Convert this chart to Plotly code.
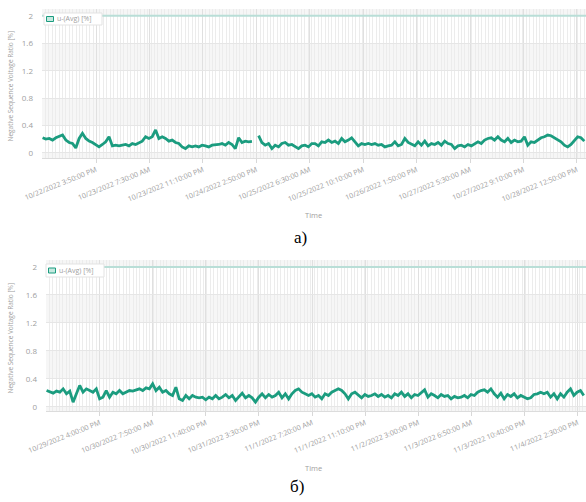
import pandas as pd
import plotly.graph_objects as go

# ---------------- data ----------------
series_name = "u-(Avg) [%]"
limit_value = 2.0

# chart a): 10/22/2022 00:10 ... 10/28/2022 15:00
a_start, a_end = "2022-10-22 00:10", "2022-10-28 15:00"
a_values_part1 = [
    0.222, 0.203, 0.212, 0.188, 0.222, 0.237, 0.262, 0.188, 0.153, 0.138,
    0.074, 0.212, 0.287, 0.212, 0.173, 0.153, 0.124, 0.089, 0.124, 0.163,
    0.237, 0.104, 0.114, 0.104, 0.114, 0.124, 0.104, 0.138, 0.124, 0.153,
    0.173, 0.237, 0.212, 0.237, 0.336, 0.212, 0.237, 0.212, 0.173, 0.188,
    0.153, 0.138, 0.089, 0.064, 0.104, 0.089, 0.104, 0.089, 0.114, 0.104,
    0.089, 0.114, 0.114, 0.124, 0.138, 0.114, 0.153, 0.124, 0.064, 0.222,
    0.153, 0.173, 0.163, 0.170, None, 0.252, 0.153, 0.114, 0.138, 0.064,
    0.114, 0.089, 0.138, 0.153, 0.114, 0.124, 0.089, 0.064, 0.104, 0.114,
    0.089, 0.138,
]
a_values_part2 = [
    0.138, 0.104, 0.163, 0.153, 0.188, 0.153, 0.173, 0.138, 0.212, 0.163,
    0.188, 0.222, 0.163, 0.104, 0.138, 0.124, 0.138, 0.124, 0.138, 0.114,
    0.124, 0.089, 0.104, 0.114, 0.163, 0.104, 0.124, 0.212, 0.153, 0.124,
    0.104, 0.163, 0.114, 0.173, 0.104, 0.138, 0.124, 0.153, 0.114, 0.173,
    0.138, 0.124, 0.064, 0.104, 0.114, 0.089, 0.124, 0.104, 0.138, 0.163,
    0.138, 0.188, 0.212, 0.222, 0.188, 0.237, 0.188, 0.163, 0.212, 0.153,
    0.188, 0.163, 0.173, 0.237, 0.114, 0.163, 0.153, 0.188, 0.222, 0.237,
    0.262, 0.252, 0.222, 0.188, 0.163, 0.114, 0.089, 0.124, 0.188, 0.237,
    0.222, 0.173,
]
a_values = a_values_part1 + a_values_part2
a_first_tick, a_tick_step_min, a_tick_count = "2022-10-22 15:50", 940, 10
a_range = ["2022-10-22 00:00", "2022-10-28 15:30"]

# chart б): 10/29/2022 00:10 ... 11/4/2022 16:20
b_start, b_end = "2022-10-29 00:10", "2022-11-04 16:20"
b_values_part1 = [
    0.233, 0.209, 0.195, 0.224, 0.209, 0.257, 0.186, 0.224, 0.067, 0.186,
    0.305, 0.209, 0.257, 0.233, 0.209, 0.257, 0.114, 0.138, 0.233, 0.138,
    0.209, 0.186, 0.233, 0.186, 0.209, 0.233, 0.224, 0.243, 0.257, 0.233,
    0.271, 0.257, 0.328, 0.233, 0.281, 0.209, 0.233, 0.186, 0.162, 0.281,
    0.114, 0.090, 0.162, 0.114, 0.162, 0.138, 0.129, 0.138, 0.100, 0.138,
    0.114, 0.162, 0.114, 0.138, 0.176, 0.129, 0.162, 0.090, 0.138, 0.195,
    0.129, 0.162, 0.129, 0.067, 0.138, 0.186, 0.129, 0.176, 0.138, 0.162,
    0.209, 0.129, 0.186, 0.114, 0.186, 0.233, 0.257, 0.209, 0.186, 0.162,
    0.186,
]
b_values_part2 = [
    0.138, 0.162, 0.114, 0.186, 0.162, 0.209, 0.233, 0.257, 0.233, 0.186,
    0.114, 0.186, 0.209, 0.162, 0.129, 0.176, 0.148, 0.162, 0.186, 0.148,
    0.176, 0.138, 0.162, 0.129, 0.186, 0.162, 0.209, 0.148, 0.186, 0.129,
    0.176, 0.162, 0.209, 0.243, 0.138, 0.186, 0.162, 0.129, 0.176, 0.148,
    0.162, 0.114, 0.148, 0.129, 0.138, 0.162, 0.129, 0.176, 0.162, 0.209,
    0.233, 0.243, 0.209, 0.257, 0.186, 0.138, 0.195, 0.114, 0.176, 0.148,
    0.186, 0.129, 0.162, 0.138, 0.114, 0.129, 0.176, 0.186, 0.209, 0.186,
    0.209, 0.138, 0.186, 0.114, 0.186, 0.138, 0.209, 0.257, 0.162, 0.209,
    0.233, 0.162,
]
b_values = b_values_part1 + b_values_part2
b_first_tick, b_tick_step_min, b_tick_count = "2022-10-29 16:00", 950, 10
b_range = ["2022-10-29 00:00", "2022-11-04 17:00"]

y_ticks = [0, 0.4, 0.8, 1.2, 1.6, 2]
y_tick_labels = ["0", "0.4", "0.8", "1.2", "1.6", "2"]
y_title = "Negative Sequence Voltage Ratio [%]"
x_title = "Time"
captions = ["a)", "б)"]

# ---------------- helpers ----------------
W, H = 586, 502
LINE = "#1b9c7f"
LIMIT = "#b9ded7"
GRAY = "#a0a0a0"


def fmt(d):
    h = d.hour % 12
    h = 12 if h == 0 else h
    ap = "AM" if d.hour < 12 else "PM"
    return f"{d.month}/{d.day}/{d.year} {h}:{d.minute:02d}:00 {ap}"


def ticks(first, step, count):
    t0 = pd.Timestamp(first)
    vals = [t0 + pd.Timedelta(minutes=step * k) for k in range(count)]
    return vals, [fmt(v) for v in vals]


def px_x(p):
    return p / W


def px_y(p):
    return 1 - p / H


fig = go.Figure()

panels = [
    dict(vals=a_values, start=a_start, end=a_end, tk=ticks(a_first_tick, a_tick_step_min, a_tick_count),
         rng=a_range, xd=[42, W], yd=[9, 158], yr=[-0.073, 2.1], xa="x", ya="y",
         leg=(44, 13, 102, 25), time_y=215, cap_y=237, cap_x=300),
    dict(vals=b_values, start=b_start, end=b_end, tk=ticks(b_first_tick, b_tick_step_min, b_tick_count),
         rng=b_range, xd=[46, W], yd=[260, 411], yr=[-0.06, 2.1], xa="x2", ya="y2",
         leg=(46, 264, 104, 277), time_y=468, cap_y=486, cap_x=297),
]

shapes = []
annotations = []
for i, p in enumerate(panels):
    times = pd.date_range(p["start"], p["end"], periods=len(p["vals"]))
    fig.add_trace(go.Scatter(x=[p["rng"][0], p["rng"][1]], y=[limit_value, limit_value], mode="lines",
                             line=dict(color=LIMIT, width=2), xaxis=p["xa"], yaxis=p["ya"],
                             showlegend=False, hoverinfo="skip"))
    fig.add_trace(go.Scatter(x=times, y=p["vals"], mode="lines", name=series_name,
                             line=dict(color=LINE, width=2.8), connectgaps=False,
                             xaxis=p["xa"], yaxis=p["ya"], showlegend=False))
    suffix = "" if i == 0 else "2"
    fig.layout["xaxis" + suffix] = dict(
        domain=[px_x(p["xd"][0]), 1], anchor="y" + suffix, type="date", range=p["rng"],
        tickmode="array", tickvals=p["tk"][0], ticktext=p["tk"][1], tickangle=-22,
        tickfont=dict(size=7.2, color=GRAY, family="Open Sans"), automargin=False,
        showgrid=True, gridcolor="#e0e0e0", gridwidth=1,
        minor=dict(dtick=3600000, showgrid=True, gridcolor="#ececec", gridwidth=1),
        ticks="outside", ticklen=4, tickcolor="#d8d8d8",
        showline=True, linecolor="#dcdcdc", zeroline=False,
    )
    fig.layout["yaxis" + suffix] = dict(
        domain=[px_y(p["yd"][1]), px_y(p["yd"][0])], anchor="x" + suffix, range=p["yr"],
        tickmode="array", tickvals=y_ticks, ticktext=y_tick_labels, automargin=False,
        tickfont=dict(size=8, color=GRAY, family="Open Sans"),
        showgrid=True, gridcolor="#e6e6e6", zeroline=False, ticklabelstandoff=8,
    )
    # alternating bands
    for b0, b1 in [(-0.4, 0), (0.4, 0.8), (1.2, 1.6), (2.0, 2.4)]:
        shapes.append(dict(type="rect", xref=p["xa"] + " domain", yref=p["ya"], x0=0, x1=1,
                           y0=max(b0, p["yr"][0]), y1=min(b1, p["yr"][1]),
                           fillcolor="#f6f6f6", line=dict(width=0), layer="below"))
    # legend box
    lx0, ly0, lx1, ly1 = p["leg"]
    shapes.append(dict(type="rect", xref="paper", yref="paper", x0=px_x(lx0), x1=px_x(lx1),
                       y0=px_y(ly1), y1=px_y(ly0), fillcolor="white",
                       line=dict(color="#e3e3e3", width=1), layer="above"))
    cy = (ly0 + ly1) / 2
    shapes.append(dict(type="rect", xref="paper", yref="paper", x0=px_x(lx0 + 2.5), x1=px_x(lx0 + 9.5),
                       y0=px_y(cy + 2.5), y1=px_y(cy - 2.5), fillcolor="#c6e9e0",
                       line=dict(color=LINE, width=1), layer="above"))
    annotations.append(dict(text=series_name, xref="paper", yref="paper", x=px_x(lx0 + 11), y=px_y(cy),
                            xanchor="left", yanchor="middle", showarrow=False,
                            font=dict(size=7, color=GRAY, family="Open Sans")))
    # y title
    annotations.append(dict(text=y_title, xref="paper", yref="paper", x=px_x(10),
                            y=px_y((p["yd"][0] + p["yd"][1]) / 2 + 3), textangle=-90,
                            xanchor="center", yanchor="middle", showarrow=False,
                            font=dict(size=6.5, color=GRAY, family="Open Sans")))
    # x title
    annotations.append(dict(text=x_title, xref="paper", yref="paper", x=px_x(313), y=px_y(p["time_y"]),
                            xanchor="center", yanchor="middle", showarrow=False,
                            font=dict(size=7.5, color=GRAY, family="Open Sans")))
    # caption
    annotations.append(dict(text=captions[i], xref="paper", yref="paper", x=px_x(p["cap_x"]),
                            y=px_y(p["cap_y"]), xanchor="center", yanchor="middle", showarrow=False,
                            font=dict(size=17, color="black", family="Liberation Serif")))

fig.update_layout(width=W, height=H, margin=dict(l=0, r=0, t=0, b=0),
                  paper_bgcolor="white", plot_bgcolor="white",
                  shapes=shapes, annotations=annotations, showlegend=False)

fig.write_html("out.html", config={"displayModeBar": False},
               post_script="document.body.style.margin='0';document.body.style.overflow='hidden';")
